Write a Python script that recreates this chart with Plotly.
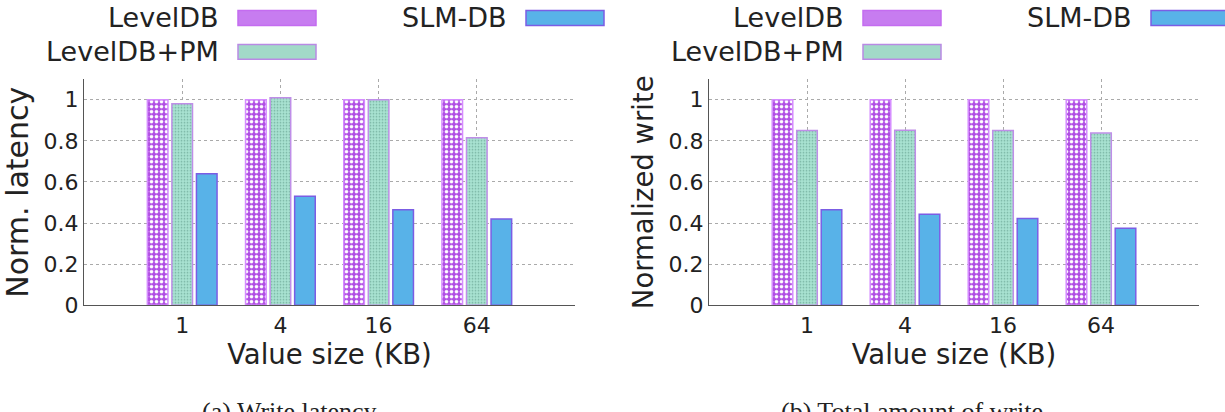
import plotly.graph_objects as go

# ---- data ----
categories = ["1", "4", "16", "64"]
series_names = ["LevelDB", "LevelDB+PM", "SLM-DB"]
latency_leveldb = [1.0, 1.0, 1.0, 1.0]
latency_leveldb_pm = [0.98, 1.01, 1.0, 0.815]
latency_slmdb = [0.64, 0.53, 0.465, 0.42]
write_leveldb = [1.0, 1.0, 1.0, 1.0]
write_leveldb_pm = [0.85, 0.852, 0.85, 0.838]
write_slmdb = [0.465, 0.443, 0.422, 0.375]
y_ticks = [0, 0.2, 0.4, 0.6, 0.8, 1]
y_tick_labels = ["0", "0.2", "0.4", "0.6", "0.8", "1"]
y_titles = ["Norm. latency", "Normalized write"]
x_title = "Value size (KB)"
captions = ["(a) Write latency", "(b) Total amount of write"]

W, H = 1225, 412
VS = 1.03  # vertical correction
FONT = "DejaVu Sans"

styles = {
    "LevelDB": dict(
        color="#b14fe4",
        pattern=dict(shape=".", fgcolor="white", bgcolor="#b14fe4", size=5, solidity=0.4, fillmode="replace"),
        line=dict(color="#d58cff", width=1.5),
    ),
    "LevelDB+PM": dict(
        color="#a3dfcd",
        pattern=dict(shape=".", fgcolor="#79b4a3", bgcolor="#a8e2d1", size=3, solidity=0.25, fillmode="replace"),
        line=dict(color="#bf8ee8", width=1.5),
    ),
    "SLM-DB": dict(
        color="#58b2e8",
        line=dict(color="#7b5de4", width=1.5),
    ),
}
swatch_fill = {"LevelDB": "#c77cf0", "LevelDB+PM": "#a2dac8", "SLM-DB": "#58b2e8"}
swatch_line = {"LevelDB": "#c46cf0", "LevelDB+PM": "#b98ae4", "SLM-DB": "#7b5de4"}

fig = go.Figure()

panels = [
    ("x", "y", [latency_leveldb, latency_leveldb_pm, latency_slmdb]),
    ("x2", "y2", [write_leveldb, write_leveldb_pm, write_slmdb]),
]
for xa, ya, vals in panels:
    for name, v in zip(series_names, vals):
        st = styles[name]
        fig.add_trace(go.Bar(
            x=categories, y=v, name=name, xaxis=xa, yaxis=ya, showlegend=False,
            marker=dict(color=st["color"], line=st["line"], pattern=st.get("pattern")),
            hoverinfo="skip",
        ))

# plot areas in pixels
left_px = [(84, 575), (709, 1199)]
top_px, bot_px = 79.4, 306


def px_x(v):
    return v / W


def px_y(v):
    return 1 - v * VS / H


axis_common = dict(
    showline=True, linecolor="#555555", linewidth=1.2,
    gridcolor="#aaaaaa", griddash="dot", gridwidth=1,
    tickfont=dict(family=FONT, size=22, color="#222222"),
    zeroline=False, ticks="",
)

layout = dict(
    width=W, height=H, margin=dict(l=0, r=0, t=0, b=0),
    paper_bgcolor="white", plot_bgcolor="white",
    barmode="group", bargap=0.25, bargroupgap=0.16,
    showlegend=False,
    font=dict(family=FONT, color="#222222"),
)
ytitle_sizes = [30, 27.5]
for i, (x0, x1) in enumerate(left_px):
    sfx = "" if i == 0 else str(i + 1)
    layout["xaxis" + sfx] = dict(
        axis_common, domain=[px_x(x0), px_x(x1)], anchor="y" + sfx,
        range=[-1, 4], showgrid=True, type="category",
        title=dict(text=x_title, font=dict(family=FONT, size=27.5, color="#222222"), standoff=2),
    )
    layout["yaxis" + sfx] = dict(
        axis_common, domain=[px_y(bot_px), px_y(top_px)], anchor="x" + sfx,
        range=[0, 1.1], tickvals=y_ticks, ticktext=y_tick_labels, showgrid=True,
        title=dict(text=y_titles[i], font=dict(family=FONT, size=ytitle_sizes[i], color="#222222"), standoff=6),
    )
fig.update_layout(**layout)

# manual legends (text to the left of long swatches)
shapes = []
annotations = []
legend_items = [("LevelDB", 154, 18), ("SLM-DB", 442, 18), ("LevelDB+PM", 154, 52)]
for (x0, x1) in left_px:
    for name, dx, yc in legend_items:
        sx0 = x0 + dx
        sx1 = sx0 + 78
        shapes.append(dict(
            type="rect", xref="paper", yref="paper",
            x0=px_x(sx0), x1=px_x(sx1), y0=px_y(yc + 7.5), y1=px_y(yc - 7.5),
            fillcolor=swatch_fill[name], line=dict(color=swatch_line[name], width=1.5),
        ))
        annotations.append(dict(
            text=name, xref="paper", yref="paper", x=px_x(sx0 - 17), y=px_y(yc),
            xanchor="right", yanchor="middle", showarrow=False,
            font=dict(family=FONT, size=27, color="#222222"),
        ))

caption_x = [289, 912]
for cx, cap in zip(caption_x, captions):
    annotations.append(dict(
        text=cap, xref="paper", yref="paper", x=px_x(cx), y=px_y(396),
        xanchor="center", yanchor="top", showarrow=False,
        font=dict(family="Liberation Serif", size=26, color="#222222"),
    ))

fig.update_layout(shapes=shapes, annotations=annotations)
fig.write_html("out.html")
